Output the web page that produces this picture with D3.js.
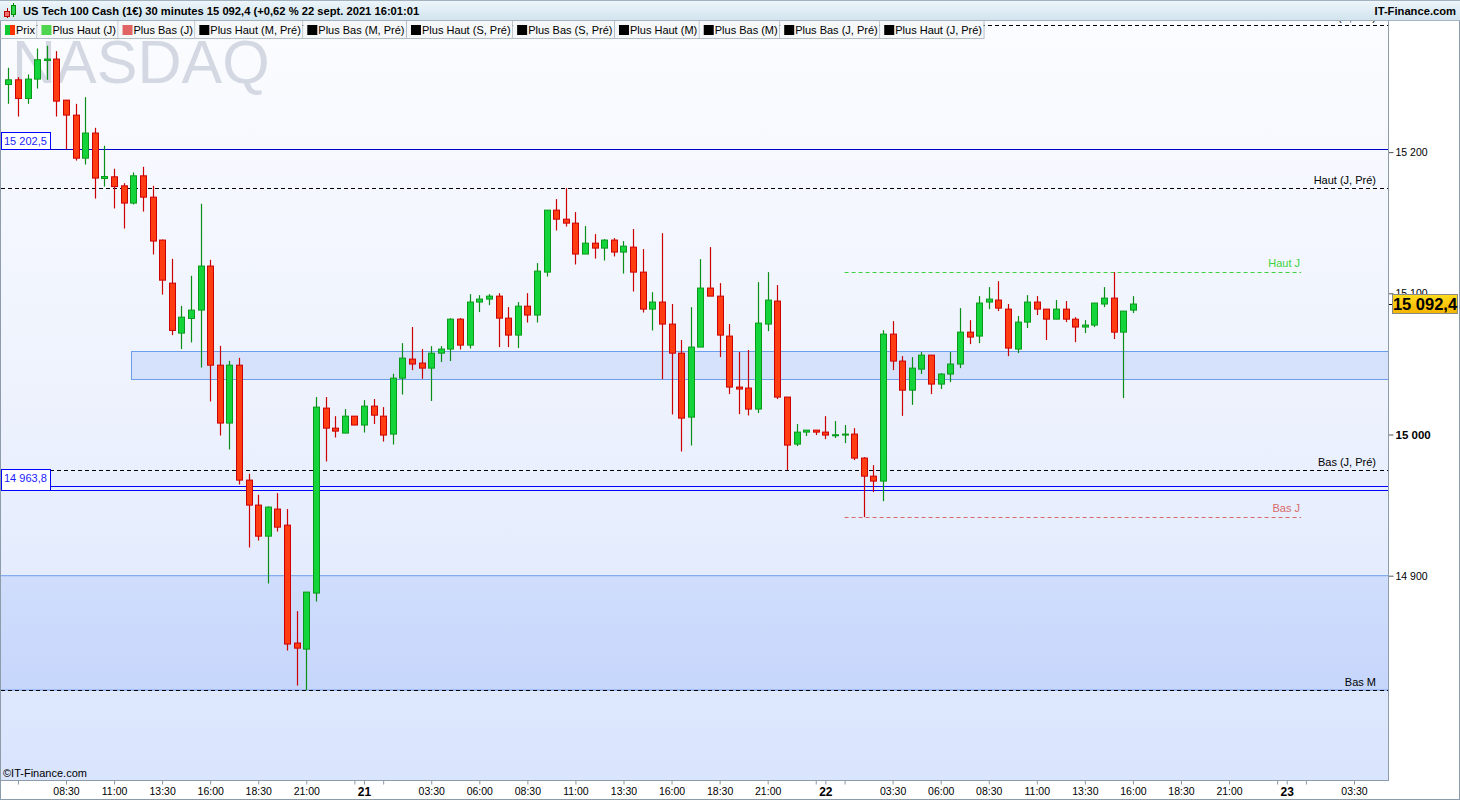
<!DOCTYPE html>
<html lang="fr">
<head>
<meta charset="utf-8">
<title>US Tech 100 Cash - 30 minutes</title>
<script src="https://d3js.org/d3.v7.min.js"></script>
<style>
  body { margin: 0; background: #fff; }
  svg text { font-family: "Liberation Sans", Arial, sans-serif; }
</style>
</head>
<body>
<div id="chart"></div>
<script>
"use strict"

// premiere bougie : 20 sept. 2021 05:30, une bougie toutes les 30 minutes
var debut = new Date(2021, 8, 20, 5, 30)

var ouvertures = [15247.9, 15251.2, 15238.0, 15251.7, 15264.9, 15265.9, 15236.8, 15226.2, 15195.7, 15213.5,
  15181.3, 15182.5, 15176.1, 15163.9, 15183.2, 15168.1, 15137.7, 15107.2, 15071.8, 15082.2,
  15088.1, 15119.3, 15049.1, 15008.1, 15049.1, 14967.7, 14950.0, 14928.0, 14947.2, 14935.8,
  14852.3, 14848.0, 14887.7, 15018.7, 15004.5, 15001.0, 15013.0, 15006.7, 15020.1, 15013.0,
  15000.3, 15039.9, 15053.4, 15050.6, 15047.0, 15057.6, 15060.5, 15081.7, 15063.3, 15093.8,
  15095.9, 15098.0, 15082.4, 15070.4, 15090.9, 15084.6, 15115.0, 15158.9, 15152.5, 15149.7,
  15127.8, 15135.5, 15132.0, 15137.7, 15129.2, 15132.7, 15115.0, 15088.8, 15093.8, 15078.2,
  15057.6, 15012.3, 15061.9, 15103.7, 15098.0, 15069.7, 15033.6, 15032.9, 15018.0, 15078.2,
  15094.5, 15026.5, 14993.2, 15001.7, 15003.1, 15001.7, 14999.6, 15000.1, 15000.3, 14983.3,
  14970.5, 14967.0, 15071.1, 15052.0, 15031.4, 15046.3, 15056.2, 15035.7, 15042.8, 15049.9,
  15072.5, 15069.7, 15093.8, 15095.2, 15088.8, 15060.5, 15079.6, 15093.8, 15088.8, 15081.7,
  15088.8, 15081.7, 15076.1, 15077.5, 15092.4, 15096.6, 15072.5, 15088.1]

var hauts = [15259.7, 15253.1, 15255.0, 15273.4, 15275.3, 15271.5, 15237.0, 15234.2, 15238.9, 15217.2,
  15204.5, 15188.2, 15178.0, 15185.6, 15189.6, 15176.1, 15138.0, 15124.4, 15091.1, 15112.4,
  15163.4, 15123.7, 15062.8, 15052.2, 15054.3, 14972.2, 14957.3, 14949.0, 14958.5, 14947.2,
  14874.9, 14888.4, 15026.5, 15026.5, 15013.0, 15018.0, 15013.0, 15024.4, 15025.1, 15019.4,
  15043.0, 15064.7, 15076.1, 15060.5, 15062.6, 15062.6, 15082.4, 15082.4, 15099.4, 15098.7,
  15099.4, 15100.1, 15090.2, 15093.8, 15100.1, 15121.4, 15158.9, 15166.7, 15174.5, 15157.5,
  15147.6, 15141.9, 15138.4, 15139.1, 15137.0, 15145.5, 15131.3, 15100.8, 15142.6, 15092.4,
  15066.9, 15090.2, 15124.2, 15132.7, 15107.2, 15078.2, 15058.4, 15059.8, 15107.9, 15115.0,
  15105.8, 15026.5, 15007.4, 15003.1, 15003.1, 15013.0, 15009.5, 15006.7, 15004.5, 14984.0,
  14978.3, 15073.9, 15080.3, 15055.5, 15054.8, 15058.4, 15056.2, 15043.5, 15058.4, 15089.5,
  15081.0, 15098.0, 15104.4, 15108.6, 15092.4, 15083.9, 15098.7, 15098.0, 15088.8, 15095.2,
  15094.5, 15083.1, 15081.0, 15093.1, 15104.4, 15115.0, 15087.4, 15098.0]

var bas = [15234.2, 15225.2, 15234.2, 15245.0, 15251.2, 15225.2, 15202.1, 15194.0, 15191.2, 15167.1,
  15175.6, 15160.1, 15145.9, 15162.9, 15157.9, 15127.5, 15099.1, 15070.4, 15060.5, 15065.2,
  15047.4, 15023.4, 14999.3, 14989.4, 14964.6, 14920.0, 14924.9, 14894.5, 14931.3, 14847.0,
  14822.2, 14819.0, 14881.7, 14980.9, 14997.9, 15001.0, 15006.7, 15001.4, 15007.4, 14995.0,
  14992.9, 15028.3, 15045.6, 15039.4, 15023.7, 15051.3, 15052.0, 15060.2, 15060.9, 15086.7,
  15091.6, 15061.9, 15061.9, 15061.2, 15079.3, 15079.3, 15111.9, 15144.5, 15147.3, 15120.4,
  15127.8, 15124.6, 15123.2, 15126.1, 15114.0, 15101.3, 15086.4, 15073.7, 15039.2, 15014.2,
  14988.0, 14992.2, 15061.9, 15098.0, 15054.8, 15028.6, 15014.4, 15013.5, 15015.2, 15073.2,
  15025.1, 14974.8, 14991.8, 14998.9, 14999.6, 14996.7, 14997.5, 14993.9, 14981.9, 14941.5,
  14959.2, 14952.8, 15045.6, 15013.2, 15021.0, 15042.8, 15028.6, 15032.2, 15037.1, 15047.0,
  15064.0, 15064.7, 15088.8, 15087.4, 15055.5, 15057.6, 15075.4, 15084.6, 15066.9, 15081.7,
  15079.6, 15065.4, 15071.8, 15076.1, 15090.2, 15067.6, 15025.8, 15086.0]

var clotures = [15251.2, 15238.0, 15251.7, 15265.4, 15265.9, 15236.1, 15226.2, 15195.7, 15213.5, 15181.6,
  15182.7, 15175.6, 15163.9, 15183.2, 15168.1, 15137.0, 15109.3, 15073.7, 15083.1, 15088.1,
  15119.3, 15049.1, 15008.1, 15049.1, 14967.7, 14950.0, 14928.0, 14948.6, 14934.4, 14851.6,
  14848.7, 14888.4, 15019.4, 15004.5, 15002.4, 15013.0, 15006.7, 15020.1, 15013.7, 14999.6,
  15039.9, 15054.1, 15049.9, 15047.0, 15057.6, 15060.5, 15081.7, 15063.3, 15093.8, 15095.9,
  15098.0, 15082.4, 15070.4, 15090.9, 15084.6, 15115.7, 15158.9, 15152.5, 15149.7, 15127.8,
  15135.5, 15132.0, 15137.7, 15129.2, 15133.4, 15115.0, 15088.8, 15093.8, 15078.2, 15057.6,
  15011.6, 15061.9, 15103.7, 15098.0, 15070.4, 15033.6, 15032.2, 15018.0, 15078.9, 15095.2,
  15026.5, 14992.5, 15001.7, 15003.1, 15001.7, 14999.6, 14999.8, 15000.3, 14983.3, 14970.5,
  14967.0, 15071.1, 15052.0, 15031.4, 15047.0, 15056.2, 15035.7, 15042.8, 15049.9, 15072.5,
  15069.0, 15093.1, 15095.9, 15089.5, 15061.2, 15079.6, 15093.8, 15088.8, 15081.7, 15088.8,
  15081.7, 15076.1, 15077.5, 15093.1, 15096.6, 15072.5, 15087.4, 15092.4]

// niveaux horizontaux en pointillés noirs
var niveauxNoms = ["Haut (S, Pré)", "Haut (J, Pré)", "Bas (J, Pré)", "Bas M"]
var niveauxValeurs = [15290.2, 15174.5, 14974.8, 14819.0]
// plus haut / plus bas du jour (depuis 22 sept. 01:00)
var hautJ = 15115.0, basJ = 14941.5
var debutJour = new Date(2021, 8, 22, 1, 0), finJour = new Date(2021, 8, 23, 0, 45)
// lignes bleues tracées à la main
var lignesBleues = [15202.5, 14963.8, 14960.9]
var etiquettesBleues = ["15 202,5", "14 963,8"]
// zones
var zoneHaute = [15039.2, 15059.1], debutZone = new Date(2021, 8, 20, 12, 0)
var zoneBasse = [14819.0, 14900]
var ticksPrix = [14900, 15000, 15100, 15200]
var dernierPrix = 15092.4

var legende = ["Prix", "Plus Haut (J)", "Plus Bas (J)", "Plus Haut (M, Pré)", "Plus Bas (M, Pré)",
  "Plus Haut (S, Pré)", "Plus Bas (S, Pré)", "Plus Haut (M)", "Plus Bas (M)", "Plus Bas (J, Pré)", "Plus Haut (J, Pré)"]
var legendeCouleurs = ["prix", "#4fd44f", "#e06464", "#000", "#000", "#000", "#000", "#000", "#000", "#000", "#000"]

var titre = "US Tech 100 Cash (1€) 30 minutes 15 092,4 (+0,62 % 22 sept. 2021 16:01:01"

var largeur = 1460, hauteur = 800
var graphe = {left: 1, top: 20, right: 1388, bottom: 780}

var bougies = ouvertures.map((o, i) => ({
  t: d3.timeMinute.offset(debut, 30 * i), o: o, h: hauts[i], l: bas[i], c: clotures[i]
}))

var x = d3.scaleTime()
  .domain([new Date(2021, 8, 20, 8, 30), new Date(2021, 8, 23, 3, 30)])
  .range([66, 1354])
var y = d3.scaleLinear().domain([14900, 15200]).range([575.7, 152.1])

var fmt = v => d3.format(",.0f")(v).replace(/,/g, " ")

var svg = d3.select("#chart").append("svg")
  .attr("width", largeur).attr("height", hauteur)

var defs = svg.append("defs")
function degrade(id, stops) {
  var g = defs.append("linearGradient").attr("id", id)
    .attr("x1", 0).attr("y1", 0).attr("x2", 0).attr("y2", 1)
  stops.forEach(s => g.append("stop").attr("offset", s[0]).attr("stop-color", s[1]))
}
degrade("fond", [[0, "#fbfcff"], [0.5, "#edf2fd"], [1, "#d9e4fd"]])
degrade("zoneBasse", [[0, "#d0ddfc"], [1, "#c6d6fb"]])
degrade("entete", [[0, "#eef6fb"], [1, "#d2e4ee"]])
degrade("prix", [[0, "#ffdc1e"], [1, "#f5b400"]])
defs.append("clipPath").attr("id", "clip").append("rect")
  .attr("x", graphe.left).attr("y", graphe.top)
  .attr("width", graphe.right - graphe.left).attr("height", graphe.bottom - graphe.top)

svg.append("rect").attr("width", largeur).attr("height", hauteur).attr("fill", "#fff")

var zoneGraphe = svg.append("g").attr("clip-path", "url(#clip)")

zoneGraphe.append("rect")
  .attr("x", graphe.left).attr("y", graphe.top)
  .attr("width", graphe.right - graphe.left).attr("height", graphe.bottom - graphe.top)
  .attr("fill", "url(#fond)")

// zone basse 14 900 -> Bas M
zoneGraphe.append("rect")
  .attr("x", graphe.left - 2).attr("y", y(zoneBasse[1]))
  .attr("width", graphe.right + 4).attr("height", y(zoneBasse[0]) - y(zoneBasse[1]))
  .attr("fill", "url(#zoneBasse)").attr("stroke", "#6d9eeb")

// filigrane (texte coupe par le haut du graphique comme sur l'original)
zoneGraphe.append("text")
  .attr("x", 12).attr("y", 83)
  .attr("font-size", 61).attr("fill", "#d3d8e2")
  .text("NASDAQ")

// zone de resistance / support
zoneGraphe.append("rect")
  .attr("x", Math.round(x(debutZone)) - 1.5).attr("y", Math.round(y(zoneHaute[1])) + 0.5)
  .attr("width", graphe.right + 10).attr("height", Math.round(y(zoneHaute[0]) - y(zoneHaute[1])))
  .attr("fill", "#d6e2fc").attr("stroke", "#6d9eeb")

// lignes bleues
zoneGraphe.selectAll("line.bleue")
  .data(lignesBleues)
  .enter().append("line")
    .attr("class", "bleue")
    .attr("x1", graphe.left).attr("x2", graphe.right)
    .attr("y1", d => Math.round(y(d)) + 0.5).attr("y2", d => Math.round(y(d)) + 0.5)
    .attr("stroke", (d, i) => i === 0 ? "#0000c8" : "#0000ff").attr("stroke-width", 1.2)

// niveaux en pointillés
var niveaux = zoneGraphe.selectAll("g.niveau")
  .data(niveauxValeurs)
  .enter().append("g").attr("class", "niveau")
niveaux.append("line")
  .attr("x1", graphe.left).attr("x2", graphe.right)
  .attr("y1", d => Math.round(y(d)) + 0.5).attr("y2", d => Math.round(y(d)) + 0.5)
  .attr("stroke", "#000").attr("stroke-dasharray", "4,3")
niveaux.append("text")
  .attr("x", 1376).attr("y", d => y(d) - 4)
  .attr("text-anchor", "end").attr("font-size", 11).attr("fill", "#000")
  .text((d, i) => niveauxNoms[i])

// haut et bas du jour
var jour = [
  {v: hautJ, nom: "Haut J", couleur: "#3fd23f", dy: -5},
  {v: basJ, nom: "Bas J", couleur: "#d86a6a", dy: -5}
]
var niveauxJour = zoneGraphe.selectAll("g.jour").data(jour).enter().append("g").attr("class", "jour")
niveauxJour.append("line")
  .attr("x1", x(debutJour)).attr("x2", x(finJour))
  .attr("y1", d => Math.round(y(d.v)) + 0.5).attr("y2", d => Math.round(y(d.v)) + 0.5)
  .attr("stroke", d => d.couleur).attr("stroke-dasharray", "4,3")
niveauxJour.append("text")
  .attr("x", 1300).attr("y", d => y(d.v) + d.dy)
  .attr("text-anchor", "end").attr("font-size", 11).attr("fill", d => d.couleur)
  .text(d => d.nom)

// bougies
var g = zoneGraphe.selectAll("g.bougie")
  .data(bougies)
  .enter().append("g").attr("class", "bougie")

g.append("line")
  .attr("x1", d => Math.round(x(d.t)) + 0.5).attr("x2", d => Math.round(x(d.t)) + 0.5)
  .attr("y1", d => y(d.h)).attr("y2", d => y(d.l))
  .attr("stroke", d => d.c >= d.o ? "#0a8f16" : "#cc0000").attr("stroke-width", 1.2)

g.append("rect")
  .attr("x", d => Math.round(x(d.t)) - 2.5)
  .attr("width", 6)
  .attr("y", d => y(Math.max(d.o, d.c)))
  .attr("height", d => Math.max(1, Math.abs(y(d.o) - y(d.c))))
  .attr("fill", d => d.c >= d.o ? "#14d43c" : "#ff3c12")
  .attr("stroke", d => d.c >= d.o ? "#0a9a1a" : "#cc0000")

// etiquettes a gauche des lignes bleues
var etiq = svg.selectAll("g.etiq").data(etiquettesBleues).enter().append("g").attr("class", "etiq")
etiq.append("rect")
  .attr("x", 1.5).attr("width", 49)
  .attr("y", (d, i) => Math.round(y(lignesBleues[i])) - 16.5)
  .attr("height", (d, i) => i === 0 ? 17 : 21)
  .attr("fill", "#fff").attr("stroke", "#0000ff")
etiq.append("text")
  .attr("x", 4).attr("y", (d, i) => y(lignesBleues[i]) - 4)
  .attr("font-size", 11).attr("fill", "#1a1aff")
  .text(d => d)

// axe des prix a droite
var axeY = svg.append("g")
  .attr("transform", "translate(" + (graphe.right + 0.5) + ",0)")
  .call(d3.axisRight(y).tickValues(ticksPrix).tickSize(5).tickFormat(fmt))
axeY.select(".domain").remove()
axeY.selectAll(".tick line").attr("stroke", "#555")
axeY.selectAll(".tick text")
  .attr("x", 7).attr("fill", "#000")
  .attr("font-family", "Liberation Sans, Arial, sans-serif")
  .attr("font-size", d => d === 15000 ? 11.5 : 10.5)
  .attr("font-weight", d => d === 15000 ? "bold" : "normal")

svg.append("line")
  .attr("x1", graphe.right).attr("x2", graphe.right + 4)
  .attr("y1", Math.round(y(dernierPrix)) + 0.5).attr("y2", Math.round(y(dernierPrix)) + 0.5)
  .attr("stroke", "#000")
svg.append("rect")
  .attr("x", 1392.5).attr("y", Math.round(y(dernierPrix)) - 9.5)
  .attr("width", 65).attr("height", 19)
  .attr("fill", "url(#prix)").attr("stroke", "#8a8a8a")
svg.append("text")
  .attr("x", 1425).attr("y", y(dernierPrix) + 6)
  .attr("text-anchor", "middle").attr("font-size", 16.5).attr("font-weight", "bold")
  .text(d3.format(",.1f")(dernierPrix).replace(",", " ").replace(".", ","))

// axe du temps
var jours = [new Date(2021, 8, 21), new Date(2021, 8, 22), new Date(2021, 8, 23)]
var ticksHeures = []
d3.timeDay.range(new Date(2021, 8, 20), new Date(2021, 8, 24)).forEach(j => {
  [1, 3.5, 6, 8.5, 11, 13.5, 16, 18.5, 21, 23.5].forEach(h => ticksHeures.push(d3.timeMinute.offset(j, h * 60)))
})
ticksHeures = ticksHeures.filter(t => x(t) > 10 && x(t) < graphe.right)
var ticksTemps = ticksHeures.concat(jours)

var axeX = svg.append("g")
  .attr("transform", "translate(0," + (graphe.bottom + 0.5) + ")")
  .call(d3.axisBottom(x).tickValues(ticksTemps).tickSize(4).tickFormat(d => {
    if (d.getHours() === 0 && d.getMinutes() === 0) return d3.timeFormat("%d")(d)
    var h = d.getHours() + d.getMinutes() / 60
    if (h === 1 || h === 23.5 || x(d) < 40) return ""
    return d3.timeFormat("%H:%M")(d)
  }))
axeX.select(".domain").remove()
axeX.selectAll(".tick line").attr("stroke", "#8a96a4")
axeX.selectAll(".tick text")
  .attr("y", 7).attr("fill", "#000")
  .attr("font-family", "Liberation Sans, Arial, sans-serif")
  .attr("font-size", d => d.getHours() === 0 ? 12 : 10.5)
  .attr("font-weight", d => d.getHours() === 0 ? "bold" : "normal")

svg.append("text")
  .attr("x", 3).attr("y", 777).attr("font-size", 11).attr("fill", "#000")
  .text("©IT-Finance.com")

// cadres
var cadre = "#8d9cab"
svg.append("line").attr("x1", 0.5).attr("x2", 0.5).attr("y1", 20).attr("y2", 800).attr("stroke", cadre)
svg.append("line").attr("x1", graphe.right + 0.5).attr("x2", graphe.right + 0.5).attr("y1", 20).attr("y2", 780).attr("stroke", cadre)
svg.append("line").attr("x1", 0).attr("x2", graphe.right + 1).attr("y1", 780.5).attr("y2", 780.5).attr("stroke", cadre)
svg.append("line").attr("x1", 0).attr("x2", largeur).attr("y1", 799.5).attr("y2", 799.5).attr("stroke", cadre)
svg.append("line").attr("x1", largeur - 0.5).attr("x2", largeur - 0.5).attr("y1", 0).attr("y2", 800).attr("stroke", cadre)

// entete
svg.append("rect").attr("x", 0).attr("y", 0).attr("width", largeur).attr("height", 20)
  .attr("fill", "url(#entete)")
svg.append("line").attr("x1", 0).attr("x2", largeur).attr("y1", 20.5).attr("y2", 20.5).attr("stroke", "#a3b3c0")
svg.append("line").attr("x1", 0).attr("x2", largeur).attr("y1", 0.5).attr("y2", 0.5).attr("stroke", "#a3b3c0")
// petite icone bougies
svg.append("line").attr("x1", 7.5).attr("x2", 7.5).attr("y1", 8).attr("y2", 18).attr("stroke", "#b00")
svg.append("rect").attr("x", 4.5).attr("y", 11.5).attr("width", 5).attr("height", 5).attr("fill", "#f07070").attr("stroke", "#b00")
svg.append("line").attr("x1", 13.5).attr("x2", 13.5).attr("y1", 3).attr("y2", 17).attr("stroke", "#080")
svg.append("rect").attr("x", 11.5).attr("y", 5.5).attr("width", 4).attr("height", 9).attr("fill", "#2dd44a").attr("stroke", "#080")
svg.append("text").attr("x", 23).attr("y", 15).attr("font-size", 11.2).attr("font-weight", "bold")
  .attr("fill", "#000").text(titre)
svg.append("text").attr("x", 1456).attr("y", 15).attr("font-size", 11.2).attr("font-weight", "bold")
  .attr("text-anchor", "end").attr("fill", "#000").text("IT-Finance.com")

// legende
var leg = svg.append("g")
var posX = 1
legende.forEach((nom, i) => {
  var item = leg.append("g")
  var fondItem = item.append("rect").attr("y", 21).attr("height", 17).attr("fill", "#f5f7f9")
  if (legendeCouleurs[i] === "prix") {
    item.append("rect").attr("x", posX + 4).attr("y", 25).attr("width", 5).attr("height", 10).attr("fill", "#10c830")
    item.append("rect").attr("x", posX + 9).attr("y", 25).attr("width", 5).attr("height", 10).attr("fill", "#ff3300")
  } else {
    item.append("rect").attr("x", posX + 4).attr("y", 25).attr("width", 10).attr("height", 10).attr("fill", legendeCouleurs[i])
  }
  var t = item.append("text").attr("x", posX + 15).attr("y", 34).attr("font-size", 11).attr("fill", "#000").text(nom)
  var fin = posX + 15 + t.node().getComputedTextLength() + 1.5
  fondItem.attr("x", posX).attr("width", fin - posX)
  item.append("line").attr("x1", fin + 0.5).attr("x2", fin + 0.5).attr("y1", 21).attr("y2", 38).attr("stroke", "#b4bec8")
  posX = fin + 1
})
leg.append("line").attr("x1", 0).attr("x2", posX).attr("y1", 38.5).attr("y2", 38.5).attr("stroke", "#b4bec8")
</script>
</body>
</html>
